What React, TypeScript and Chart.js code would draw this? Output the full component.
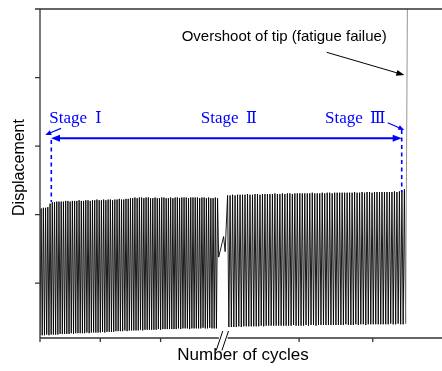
import React, { useEffect, useRef } from "react";
import { Chart, registerables } from "chart.js";

Chart.register(...registerables);

// ---------------- data ----------------
const X_MIN = 0;
const X_MAX = 180;
const Y_MIN = 0.2;
const Y_MAX = 5;
const X_TICKS = [0, 27, 54, 116, 149];
const Y_TICKS = [1, 2, 3, 4, 5];

// Stage before the axis break: one peak and one trough per cycle
const LEFT_PEAKS = [
  2.09, 2.10, 2.10, 2.11, 2.16, 2.18, 2.18, 2.19, 2.19, 2.19,
  2.19, 2.20, 2.20, 2.19, 2.20, 2.20, 2.20, 2.21, 2.20, 2.20,
  2.21, 2.21, 2.20, 2.21, 2.21, 2.22, 2.21, 2.21, 2.22, 2.21,
  2.22, 2.22, 2.21, 2.22, 2.22, 2.23, 2.22, 2.22, 2.23, 2.23,
  2.24, 2.24, 2.25, 2.24, 2.25, 2.25, 2.24, 2.25, 2.25, 2.24,
  2.24, 2.25, 2.24, 2.24, 2.25, 2.25, 2.24, 2.24, 2.25, 2.24,
  2.25, 2.25, 2.24, 2.25, 2.25, 2.25, 2.24, 2.25, 2.25, 2.25,
  2.25, 2.24, 2.25, 2.25, 2.24, 2.25, 2.24, 2.24, 2.25, 2.24,
];
const LEFT_TROUGHS = [
  0.24, 0.24, 0.24, 0.25, 0.24, 0.25, 0.25, 0.25, 0.25, 0.26,
  0.26, 0.26, 0.26, 0.26, 0.27, 0.26, 0.27, 0.27, 0.27, 0.27,
  0.27, 0.28, 0.27, 0.28, 0.28, 0.28, 0.28, 0.28, 0.29, 0.28,
  0.29, 0.29, 0.29, 0.29, 0.30, 0.30, 0.30, 0.30, 0.31, 0.30,
  0.31, 0.31, 0.31, 0.31, 0.31, 0.32, 0.31, 0.32, 0.32, 0.32,
  0.32, 0.32, 0.32, 0.33, 0.32, 0.33, 0.33, 0.33, 0.33, 0.33,
  0.33, 0.33, 0.34, 0.33, 0.34, 0.34, 0.34, 0.33, 0.34, 0.34,
  0.34, 0.34, 0.34, 0.35, 0.34, 0.34, 0.35, 0.34, 0.34, 0.34,
];
// Break zig-zag on the signal
const BREAK_X = [80, 82.2, 82.9];
const BREAK_VALUES = [1.38, 1.68, 1.46];
// Stage after the axis break
const RIGHT_PEAKS = [
  2.28, 2.28, 2.29, 2.28, 2.29, 2.29, 2.29, 2.29, 2.30, 2.29,
  2.29, 2.30, 2.30, 2.29, 2.30, 2.30, 2.30, 2.30, 2.30, 2.31,
  2.30, 2.30, 2.31, 2.30, 2.31, 2.31, 2.30, 2.31, 2.31, 2.31,
  2.31, 2.31, 2.31, 2.31, 2.32, 2.31, 2.31, 2.31, 2.32, 2.31,
  2.32, 2.32, 2.31, 2.32, 2.32, 2.32, 2.32, 2.32, 2.32, 2.32,
  2.32, 2.33, 2.32, 2.32, 2.33, 2.32, 2.33, 2.33, 2.32, 2.33,
  2.33, 2.33, 2.33, 2.33, 2.33, 2.33, 2.33, 2.34, 2.33, 2.34,
  2.35, 2.37,
];
const RIGHT_TROUGHS = [
  0.36, 0.36, 0.36, 0.36, 0.37, 0.36, 0.37, 0.37, 0.37, 0.37,
  0.37, 0.37, 0.37, 0.38, 0.37, 0.38, 0.38, 0.38, 0.38, 0.38,
  0.38, 0.38, 0.38, 0.38, 0.38, 0.38, 0.39, 0.38, 0.38, 0.38,
  0.38, 0.39, 0.38, 0.39, 0.39, 0.38, 0.39, 0.39, 0.39, 0.39,
  0.39, 0.39, 0.39, 0.39, 0.39, 0.39, 0.39, 0.40, 0.39, 0.39,
  0.39, 0.40, 0.39, 0.40, 0.40, 0.39, 0.40, 0.40, 0.40, 0.40,
  0.40, 0.40, 0.40, 0.40, 0.40, 0.41, 0.40, 0.40, 0.41, 0.40,
  0.40, 0.41,
];
const OVERSHOOT_X = 164.5;
const OVERSHOOT_VALUE = 5.0;

const LEFT_START = 0;
const LEFT_STEP = 1;
const RIGHT_START = 84;
const RIGHT_STEP = 1.115;
const AXIS_BREAK = [80.1, 84];

// annotation anchors (data units)
const STAGE_LABELS = ["Stage", "Stage", "Stage"];
const STAGE_NUMERALS = ["Ⅰ", "Ⅱ", "Ⅲ"];
const STAGE_TEXT_X = [4.16, 71.96, 127.6];
const STAGE_NUM_X = [24.76, 92.24, 147.76];
const STAGE_TEXT_Y = 3.33;
const RANGE_ARROW = { x1: 4.93, x2: 161.96, y: 3.114 };
const DASH_LEFT = { x: 5.06, y1: 3.09, y2: 2.184 };
const DASH_RIGHT = { x: 161.96, y1: 3.235, y2: 2.33 };
const SMALL_ARROW_1 = { x1: 9.4, y1: 3.259, x2: 2.37, y2: 3.162 };
const SMALL_ARROW_3 = { x1: 155.7, y1: 3.341, x2: 163.1, y2: 3.235 };
const OVERSHOOT_TEXT = "Overshoot of tip (fatigue failue)";
const OVERSHOOT_TEXT_POS = { x: 63.45, y: 4.533 };
const OVERSHOOT_ARROW = { x1: 128.37, y1: 4.368, x2: 163.12, y2: 4.037 };
const X_TITLE = "Number of cycles";
const Y_TITLE = "Displacement";

function buildPoints() {
  const pts: { x: number; y: number }[] = [];
  LEFT_PEAKS.forEach((p, k) => {
    pts.push({ x: LEFT_START + k * LEFT_STEP, y: LEFT_TROUGHS[k] });
    pts.push({ x: LEFT_START + (k + 0.5) * LEFT_STEP, y: p });
  });
  BREAK_X.forEach((x, i) => pts.push({ x, y: BREAK_VALUES[i] }));
  RIGHT_PEAKS.forEach((p, j) => {
    pts.push({ x: RIGHT_START + j * RIGHT_STEP, y: p });
    pts.push({ x: RIGHT_START + (j + 0.5) * RIGHT_STEP, y: RIGHT_TROUGHS[j] });
  });
  pts.push({ x: OVERSHOOT_X, y: OVERSHOOT_VALUE });
  return pts;
}

function arrowHead(ctx: CanvasRenderingContext2D, x1: number, y1: number, x2: number, y2: number, len: number, half: number) {
  const a = Math.atan2(y2 - y1, x2 - x1);
  ctx.beginPath();
  ctx.moveTo(x2, y2);
  ctx.lineTo(x2 - len * Math.cos(a) + half * Math.sin(a), y2 - len * Math.sin(a) - half * Math.cos(a));
  ctx.lineTo(x2 - len * Math.cos(a) - half * Math.sin(a), y2 - len * Math.sin(a) + half * Math.cos(a));
  ctx.closePath();
  ctx.fill();
}

function arrow(ctx: CanvasRenderingContext2D, x1: number, y1: number, x2: number, y2: number, len: number, half: number) {
  const a = Math.atan2(y2 - y1, x2 - x1);
  ctx.beginPath();
  ctx.moveTo(x1, y1);
  ctx.lineTo(x2 - (len - 1) * Math.cos(a), y2 - (len - 1) * Math.sin(a));
  ctx.stroke();
  arrowHead(ctx, x1, y1, x2, y2, len, half);
}

const decorPlugin = {
  id: "decor",
  afterDraw(chart: any) {
    const { ctx, chartArea: ca, scales } = chart;
    const xs = scales.x;
    const ys = scales.y;
    const px = (v: number) => xs.getPixelForValue(v);
    const py = (v: number) => ys.getPixelForValue(v);
    ctx.save();

    // axes
    ctx.strokeStyle = "#333";
    ctx.lineWidth = 1.3;
    ctx.beginPath();
    ctx.moveTo(ca.left, ca.top);
    ctx.lineTo(ca.left, ca.bottom);
    ctx.moveTo(ca.left, ca.top);
    ctx.lineTo(ca.right, ca.top);
    const bl = px(AXIS_BREAK[0]);
    const br = px(AXIS_BREAK[1]);
    ctx.moveTo(ca.left, ca.bottom);
    ctx.lineTo(bl, ca.bottom);
    ctx.moveTo(br, ca.bottom);
    ctx.lineTo(ca.right, ca.bottom);
    Y_TICKS.forEach((v) => {
      const y = py(v);
      ctx.moveTo(ca.left - 5, y);
      ctx.lineTo(ca.left, y);
    });
    X_TICKS.forEach((v) => {
      const x = px(v);
      ctx.moveTo(x, ca.bottom);
      ctx.lineTo(x, ca.bottom + 4);
    });
    ctx.stroke();

    // axis break slashes
    ctx.strokeStyle = "#000";
    ctx.lineWidth = 1;
    ctx.beginPath();
    [bl + 1.5, br - 1.5].forEach((x) => {
      ctx.moveTo(x - 4.2, ca.bottom + 12.5);
      ctx.lineTo(x + 2.4, ca.bottom - 7);
    });
    ctx.stroke();

    // axis titles
    ctx.fillStyle = "#000";
    ctx.font = '17px "Liberation Sans", Arial, sans-serif';
    ctx.textAlign = "center";
    ctx.textBaseline = "alphabetic";
    ctx.fillText(X_TITLE, (ca.left + ca.right) / 2 + 2, ca.bottom + 22);
    ctx.save();
    ctx.translate(ca.left - 16, (ca.top + ca.bottom) / 2 - 6);
    ctx.rotate(-Math.PI / 2);
    ctx.font = '16px "Liberation Sans", Arial, sans-serif';
    ctx.fillText(Y_TITLE, 0, 0);
    ctx.restore();

    // overshoot annotation
    ctx.font = '15px "Liberation Sans", Arial, sans-serif';
    ctx.textAlign = "left";
    ctx.fillText(OVERSHOOT_TEXT, px(OVERSHOOT_TEXT_POS.x), py(OVERSHOOT_TEXT_POS.y));
    ctx.strokeStyle = "#000";
    ctx.lineWidth = 1;
    arrow(ctx, px(OVERSHOOT_ARROW.x1), py(OVERSHOOT_ARROW.y1), px(OVERSHOOT_ARROW.x2), py(OVERSHOOT_ARROW.y2), 8, 3);

    // stage annotations
    const blue = "#0000ff";
    ctx.fillStyle = blue;
    ctx.strokeStyle = blue;
    STAGE_LABELS.forEach((t, i) => {
      ctx.font = '17px "Liberation Serif", "Times New Roman", serif';
      ctx.fillText(t, px(STAGE_TEXT_X[i]), py(STAGE_TEXT_Y));
      ctx.font = '16px "DejaVu Serif", "Liberation Serif", serif';
      ctx.fillText(STAGE_NUMERALS[i], px(STAGE_NUM_X[i]), py(STAGE_TEXT_Y));
    });

    // range double arrow
    ctx.lineWidth = 2;
    const ax1 = px(RANGE_ARROW.x1);
    const ax2 = px(RANGE_ARROW.x2);
    const ay = py(RANGE_ARROW.y);
    ctx.beginPath();
    ctx.moveTo(ax1 + 6, ay);
    ctx.lineTo(ax2 - 6, ay);
    ctx.stroke();
    arrowHead(ctx, ax2, ay, ax1, ay, 9, 3.5);
    arrowHead(ctx, ax1, ay, ax2, ay, 9, 3.5);

    // small arrows
    ctx.lineWidth = 1.2;
    arrow(ctx, px(SMALL_ARROW_1.x1), py(SMALL_ARROW_1.y1), px(SMALL_ARROW_1.x2), py(SMALL_ARROW_1.y2), 6, 2.5);
    arrow(ctx, px(SMALL_ARROW_3.x1), py(SMALL_ARROW_3.y1), px(SMALL_ARROW_3.x2), py(SMALL_ARROW_3.y2), 6, 2.5);

    // dashed guides
    ctx.lineWidth = 1.6;
    ctx.setLineDash([4, 3.5]);
    ctx.beginPath();
    ctx.moveTo(px(DASH_LEFT.x), py(DASH_LEFT.y1));
    ctx.lineTo(px(DASH_LEFT.x), py(DASH_LEFT.y2));
    ctx.moveTo(px(DASH_RIGHT.x), py(DASH_RIGHT.y1));
    ctx.lineTo(px(DASH_RIGHT.x), py(DASH_RIGHT.y2));
    ctx.stroke();
    ctx.setLineDash([]);

    ctx.restore();
  },
};

export default function App() {
  const ref = useRef<HTMLCanvasElement | null>(null);
  useEffect(() => {
    document.body.style.margin = "0";
    const canvas = ref.current;
    if (!canvas) return;
    const points = buildPoints();
    const lastIndex = points.length - 1;
    const chart = new Chart(canvas, {
      type: "line",
      data: {
        datasets: [
          {
            data: points,
            borderColor: "#000",
            borderWidth: 0.9,
            pointRadius: 0,
            tension: 0,
            fill: false,
            segment: {
              borderColor: (c: any) => (c.p1DataIndex === lastIndex ? "#8a8a8a" : "#000"),
            },
          },
        ],
      },
      options: {
        animation: false,
        responsive: false,
        devicePixelRatio: 1,
        events: [],
        layout: { padding: { left: 40, top: 9, right: 0, bottom: 33 } },
        plugins: { legend: { display: false }, tooltip: { enabled: false } },
        scales: {
          x: { type: "linear", min: X_MIN, max: X_MAX, display: false },
          y: { type: "linear", min: Y_MIN, max: Y_MAX, display: false },
        },
      },
      plugins: [decorPlugin],
    } as any);
    return () => chart.destroy();
  }, []);
  return (
    <div style={{ width: 442, height: 371, background: "#fff" }}>
      <canvas ref={ref} width={442} height={371} style={{ display: "block" }} />
    </div>
  );
}
